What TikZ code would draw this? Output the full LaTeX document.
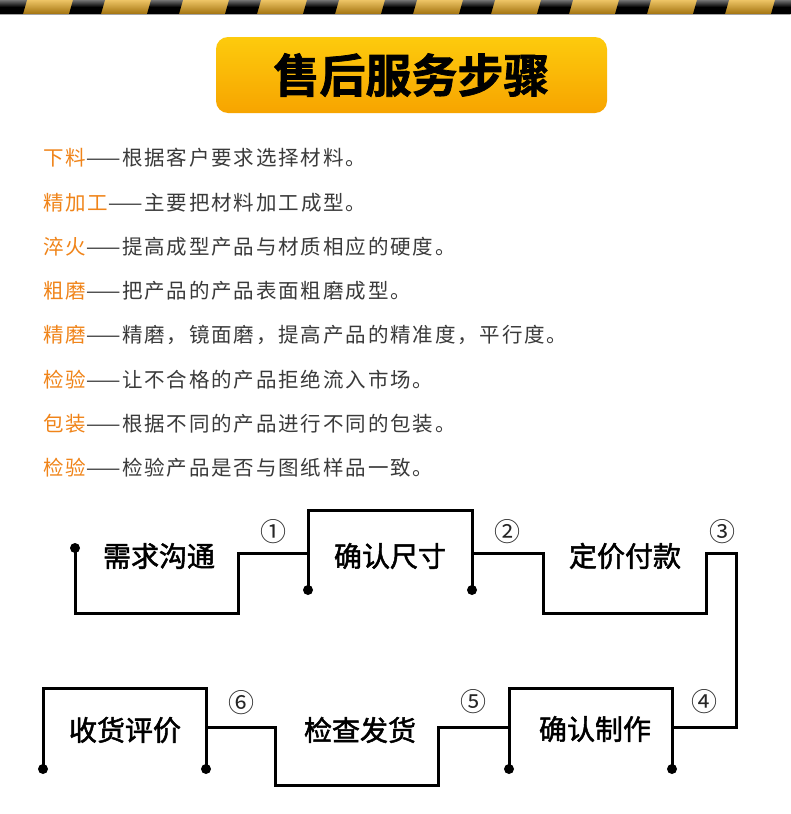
\documentclass[tikz,border=0pt]{standalone}
\usepackage{fontspec}
\newfontfamily\cjk{Noto Sans CJK SC}
\newfontfamily\cjkrow[LetterSpace=9]{Noto Sans CJK SC}
\newfontfamily\cjklbl[FakeBold=1.8]{Noto Sans CJK SC}
\newfontfamily\cjktitle[FakeBold=1.6]{Noto Sans CJK SC Bold}
\definecolor{lblor}{HTML}{F08419}
\definecolor{txtgray}{HTML}{3A3A3A}
\definecolor{stripeA}{HTML}{EDC465}
\definecolor{stripeB}{HTML}{A2720E}
\definecolor{titleA}{HTML}{FDCB0D}
\definecolor{titleB}{HTML}{F7A400}
\begin{document}
\begin{tikzpicture}[x=1pt,y=-1pt,
  ln/.style={line width=3pt, line join=miter},
  dot/.style={circle, fill=black, inner sep=0pt, minimum size=10pt},
  lbl/.style={font=\cjklbl\fontsize{28}{30}\selectfont, inner sep=0pt, text=black},
  num/.style={font=\cjk\fontsize{26}{28}\selectfont, inner sep=0pt, text=black!85},
  row/.style={anchor=west, inner sep=0pt, font=\cjkrow\fontsize{20.5}{22}\selectfont, text=txtgray}]
\useasboundingbox (0,0) rectangle (790,814);
\fill[white] (0,0) rectangle (790,814);
% stripe
\shade[top color=stripeA, bottom color=stripeB] (0,0) rectangle (790,14);
\foreach \x in {-5,73,...,775}
  \shade[top color=black!55, bottom color=black, middle color=black] (\x-4,14) -- (\x,0) -- (\x+32,0) -- (\x+28,14) -- cycle;
\draw[black!35, line width=1pt] (0,14.5) -- (790,14.5);
% title
\node[rounded corners=12pt, top color=titleA, bottom color=titleB, minimum width=391pt, minimum height=76pt, inner sep=0pt] (title) at (411.5,75) {};
\node[font=\cjktitle\fontsize{46}{48}\selectfont, inner sep=0pt] (titletext) at (title.center) {售后服务步骤};
% rows
\node[row] (r1) at (43,158) {\textcolor{lblor}{下料}——根据客户要求选择材料。};
\node[row] (r2) at (43,202.5) {\textcolor{lblor}{精加工}——主要把材料加工成型。};
\node[row] (r3) at (43,246.8) {\textcolor{lblor}{淬火}——提高成型产品与材质相应的硬度。};
\node[row] (r4) at (43,291) {\textcolor{lblor}{粗磨}——把产品的产品表面粗磨成型。};
\node[row] (r5) at (43,335.4) {\textcolor{lblor}{精磨}——精磨，镜面磨，提高产品的精准度，平行度。};
\node[row] (r6) at (43,379.7) {\textcolor{lblor}{检验}——让不合格的产品拒绝流入市场。};
\node[row] (r7) at (43,424) {\textcolor{lblor}{包装}——根据不同的产品进行不同的包装。};
\node[row] (r8) at (43,468) {\textcolor{lblor}{检验}——检验产品是否与图纸样品一致。};
% flowchart points
\node[dot] (d1) at (75,548) {};
\coordinate (a1) at (75,613);
\coordinate (a2) at (238,613);
\coordinate (a3) at (238,553);
\coordinate (b0) at (308,553);
\node[dot] (d2l) at (308,590) {};
\coordinate (b1) at (308,510);
\coordinate (b2) at (472,510);
\node[dot] (d2r) at (472,590) {};
\coordinate (b3) at (472,553);
\coordinate (c1) at (543,553);
\coordinate (c2) at (543,613);
\coordinate (c3) at (706,613);
\coordinate (c4) at (706,553);
\coordinate (c5) at (736,553);
\coordinate (c6) at (736,727);
\coordinate (e0) at (672,727);
\node[dot] (d4r) at (672,769) {};
\coordinate (e1) at (672,688);
\coordinate (e2) at (509,688);
\node[dot] (d4l) at (509,769) {};
\coordinate (e3) at (509,727);
\coordinate (f1) at (438,727);
\coordinate (f2) at (438,785);
\coordinate (f3) at (275,785);
\coordinate (f4) at (275,727);
\coordinate (g0) at (206,727);
\node[dot] (d6r) at (206,769) {};
\coordinate (g1) at (206,688);
\coordinate (g2) at (43,688);
\node[dot] (d6l) at (43,769) {};
% lines
\draw[ln] (d1.center) -- (a1) -- (a2) -- (a3) -- (b0);
\draw[ln] (d2l.center) -- (b1) -- (b2) -- (d2r.center);
\draw[ln] (b3) -- (c1) -- (c2) -- (c3) -- (c4) -- (c5) -- (c6) -- (e0);
\draw[ln] (d4r.center) -- (e1) -- (e2) -- (d4l.center);
\draw[ln] (e3) -- (f1) -- (f2) -- (f3) -- (f4) -- (g0);
\draw[ln] (d6r.center) -- (g1) -- (g2) -- (d6l.center);
% labels
\node[lbl] (s1) at (159,556) {需求沟通};
\node[lbl] (s2) at (390,556) {确认尺寸};
\node[lbl] (s3) at (625,556) {定价付款};
\node[lbl] (s4) at (595,729) {确认制作};
\node[lbl] (s5) at (360,730) {检查发货};
\node[lbl] (s6) at (125,730) {收货评价};
% numbers
\node[num] (n1) at (273,532) {①};
\node[num] (n2) at (507,532) {②};
\node[num] (n3) at (722,532) {③};
\node[num] (n4) at (704,702) {④};
\node[num] (n5) at (473,702) {⑤};
\node[num] (n6) at (241,703) {⑥};
\end{tikzpicture}
\end{document}
